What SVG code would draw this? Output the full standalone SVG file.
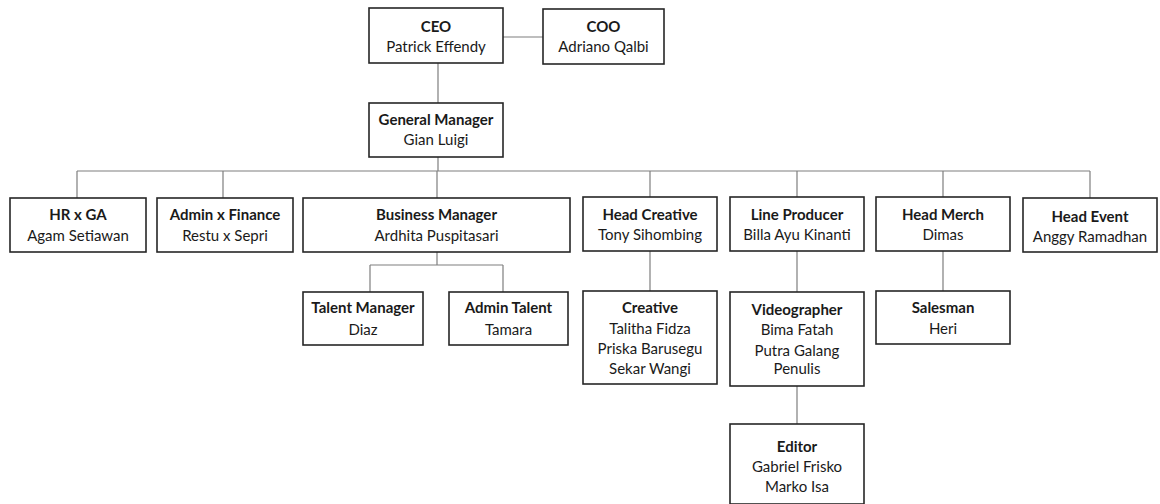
<svg xmlns="http://www.w3.org/2000/svg" width="1160" height="504" viewBox="0 0 1160 504">
<style>
.box{fill:#fff;stroke:#262626;stroke-width:1.6}
.t{font-family:Lato,"Liberation Sans",sans-serif;font-size:15px;fill:#1a1a1a;text-anchor:middle}
.b{font-weight:bold}
.c{stroke:#7f7f7f;stroke-width:1.2;fill:none}
</style>
<rect width="1160" height="504" fill="#fff"/>
<g id="connectors">
<path class="c" d="M503 37H543M438 63V103M438 157V171M77 171H1090M77 171V198M223 171V198M437 171V198M650 171V197M797 171V197M943 171V197M1090 171V198M437 252V265M370 265H503M370 265V292M503 265V292M650 251V291M797 251V292M943 251V291M797 386V424"/>
</g>
<g id="ceo"><rect class="box" x="369" y="8" width="134" height="55"/><text class="t b" x="436" y="32">CEO</text><text class="t" x="436" y="52">Patrick Effendy</text></g>
<g id="coo"><rect class="box" x="543" y="9" width="121" height="55"/><text class="t b" x="603.5" y="32">COO</text><text class="t" x="603.5" y="52">Adriano Qalbi</text></g>
<g id="gm"><rect class="box" x="369" y="103" width="134" height="54"/><text class="t b" x="436" y="125">General Manager</text><text class="t" x="436" y="145">Gian Luigi</text></g>
<g id="hr"><rect class="box" x="10" y="198" width="136" height="54"/><text class="t b" x="78" y="220">HR x GA</text><text class="t" x="78" y="241">Agam Setiawan</text></g>
<g id="admin-finance"><rect class="box" x="157" y="198" width="136" height="54"/><text class="t b" x="225" y="220">Admin x Finance</text><text class="t" x="225" y="241">Restu x Sepri</text></g>
<g id="business-manager"><rect class="box" x="303" y="198" width="267" height="54"/><text class="t b" x="436.5" y="220">Business Manager</text><text class="t" x="436.5" y="241">Ardhita Puspitasari</text></g>
<g id="head-creative"><rect class="box" x="583" y="197" width="134" height="54"/><text class="t b" x="650" y="220">Head Creative</text><text class="t" x="650" y="240">Tony Sihombing</text></g>
<g id="line-producer"><rect class="box" x="730" y="197" width="134" height="54"/><text class="t b" x="797" y="220">Line Producer</text><text class="t" x="797" y="240">Billa Ayu Kinanti</text></g>
<g id="head-merch"><rect class="box" x="876" y="197" width="134" height="54"/><text class="t b" x="943" y="220">Head Merch</text><text class="t" x="943" y="240">Dimas</text></g>
<g id="head-event"><rect class="box" x="1023" y="198" width="134" height="54"/><text class="t b" x="1090" y="222">Head Event</text><text class="t" x="1090" y="242">Anggy Ramadhan</text></g>
<g id="talent-manager"><rect class="box" x="303" y="292" width="120" height="53"/><text class="t b" x="363" y="313">Talent Manager</text><text class="t" x="363" y="335">Diaz</text></g>
<g id="admin-talent"><rect class="box" x="449" y="292" width="119" height="53"/><text class="t b" x="508.5" y="313">Admin Talent</text><text class="t" x="508.5" y="335">Tamara</text></g>
<g id="creative"><rect class="box" x="583" y="291" width="134" height="93"/><text class="t b" x="650" y="313">Creative</text><text class="t" x="650" y="334">Talitha Fidza</text><text class="t" x="650" y="354">Priska Barusegu</text><text class="t" x="650" y="374">Sekar Wangi</text></g>
<g id="videographer"><rect class="box" x="730" y="292" width="134" height="94"/><text class="t b" x="797" y="315">Videographer</text><text class="t" x="797" y="335">Bima Fatah</text><text class="t" x="797" y="356">Putra Galang</text><text class="t" x="797" y="374">Penulis</text></g>
<g id="salesman"><rect class="box" x="876" y="291" width="134" height="53"/><text class="t b" x="943" y="313">Salesman</text><text class="t" x="943" y="334">Heri</text></g>
<g id="editor"><rect class="box" x="730" y="424" width="134" height="80"/><text class="t b" x="797" y="452">Editor</text><text class="t" x="797" y="472">Gabriel Frisko</text><text class="t" x="797" y="492">Marko Isa</text></g>
</svg>
